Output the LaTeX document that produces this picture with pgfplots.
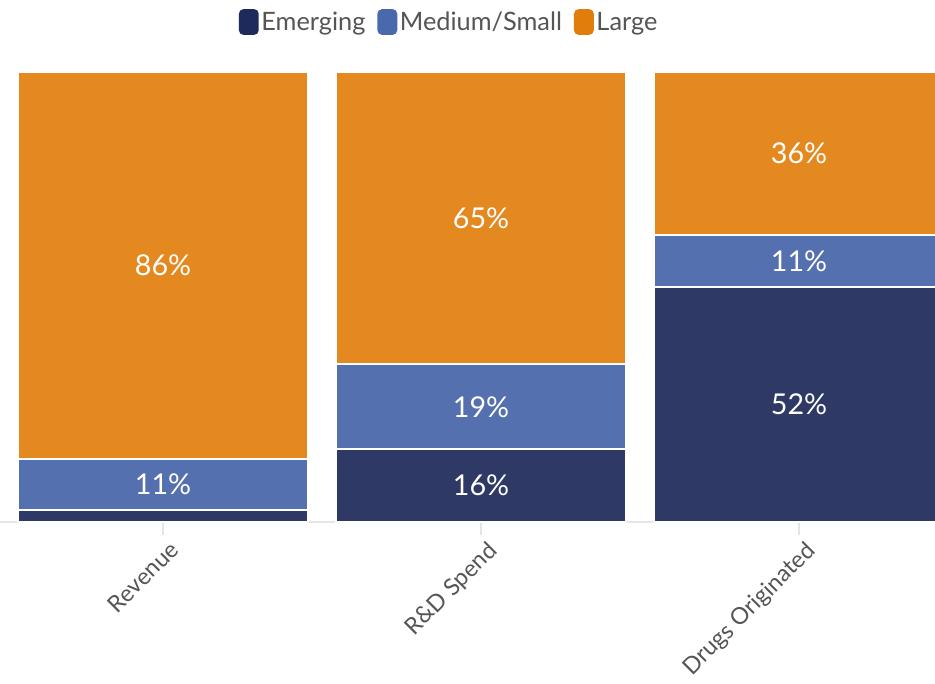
\documentclass[border=0pt]{standalone}
\usepackage{fontspec}
\setmainfont{Lato}
\usepackage{pgfplots}
\pgfplotsset{compat=1.18}
\definecolor{cEm}{HTML}{2F3965}
\definecolor{cMed}{HTML}{5470AE}
\definecolor{cLarge}{HTML}{E3891F}
\definecolor{cEmL}{HTML}{1F2A5C}
\definecolor{cMedL}{HTML}{4A69AC}
\definecolor{cLargeL}{HTML}{E07E0C}
\definecolor{txt}{HTML}{555555}
\begin{document}
\begin{tikzpicture}
\begin{axis}[
  name=main,
  scale only axis,
  width=701.25pt, height=340.875pt,
  xmin=-0.5126, xmax=2.4277,
  ymin=0, ymax=101,
  ybar stacked,
  bar width=0.912,
  axis x line=bottom,
  axis y line=none,
  x axis line style={draw=black!10, line width=0.8pt, -},
  xtick={0,1,2},
  xticklabels={Revenue, R\&D Spend, Drugs Originated},
  tick align=outside,
  major tick length=10pt,
  xtick style={draw=black!10, line width=0.8pt},
  xticklabel style={rotate=45, anchor=north east, font=\fontsize{17.5pt}{21pt}\selectfont, text=txt, inner sep=0.5pt, xshift=1pt, yshift=-4.5pt},
  legend columns=3,
  legend style={draw=none, fill=none, at={(0.4807,1.1001)}, anchor=center,
    font=\fontsize{19pt}{22pt}\selectfont, text=txt,
    /tikz/every even column/.append style={column sep=7pt}},
]
\addplot[fill=cEm, draw=white, line width=1.4pt,
  legend image code/.code={\fill[cEmL, rounded corners=3pt] (0pt,-9pt) rectangle (13.5pt,9pt);}]
  coordinates {(0,2.7) (1,16.2) (2,52.2)};
\addplot[fill=cMed, draw=white, line width=1.4pt,
  legend image code/.code={\fill[cMedL, rounded corners=3pt] (0pt,-9pt) rectangle (13.5pt,9pt);}]
  coordinates {(0,11.3) (1,18.9) (2,11.6)};
\addplot[fill=cLarge, draw=white, line width=1.4pt,
  legend image code/.code={\fill[cLargeL, rounded corners=3pt] (0pt,-9pt) rectangle (13.5pt,9pt);}]
  coordinates {(0,86.0) (1,64.9) (2,36.2)};
\legend{Emerging, Medium/Small, Large}
\coordinate (bl) at (rel axis cs:0,0);
\end{axis}
\begin{axis}[
  scale only axis,
  width=701.25pt, height=340.875pt,
  xmin=-0.5126, xmax=2.4277,
  ymin=0, ymax=101,
  hide axis,
]
\addplot[draw=none, nodes near coords, point meta=explicit symbolic,
  every node near coord/.style={anchor=center, text=white, font=\fontsize{21.5pt}{25pt}\selectfont}]
  table[meta=label] {
x y label
0 57.0 86\%
0 8.3 11\%
1 67.6 65\%
1 25.6 19\%
1 8.1 16\%
2 81.9 36\%
2 58.0 11\%
2 26.1 52\%
};
\end{axis}
\pgfresetboundingbox
\path[use as bounding box] (bl) ++(0pt,-120.75pt) rectangle ++(701.25pt,512.25pt);
\end{tikzpicture}
\end{document}
